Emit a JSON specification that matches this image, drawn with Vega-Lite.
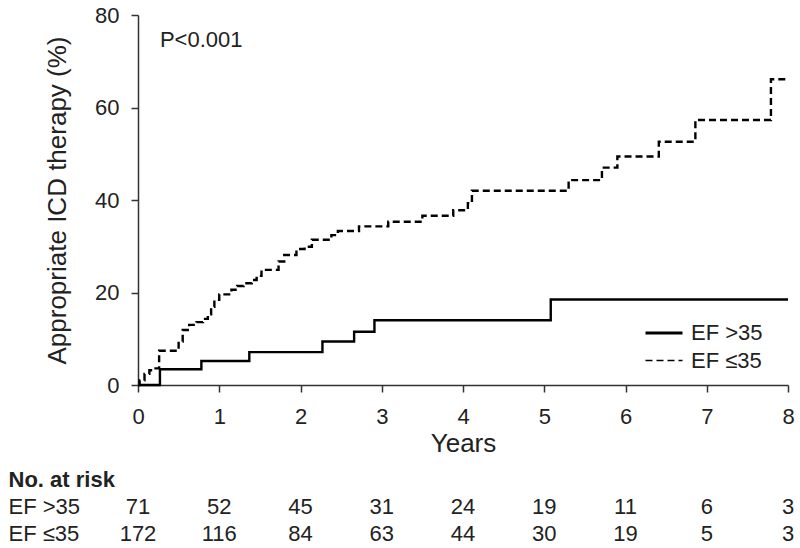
{
  "$schema": "https://vega.github.io/schema/vega-lite/v6.json",
  "background": "white",
  "padding": {"left": 8, "top": 4, "right": 0, "bottom": 0},
  "bounds": "flush",
  "spacing": 81,
  "config": {
    "view": {"stroke": null},
    "font": "Liberation Sans",
    "text": {"color": "#222"},
    "axis": {
      "grid": false,
      "domainColor": "#333",
      "tickColor": "#333",
      "labelColor": "#222",
      "titleColor": "#222",
      "labelFont": "Liberation Sans",
      "titleFont": "Liberation Sans",
      "titleFontWeight": "normal",
      "labelFontSize": 22,
      "titleFontSize": 26,
      "domainWidth": 1.5,
      "tickWidth": 1.5
    }
  },
  "vconcat": [
    {
      "width": 650,
      "height": 370,
      "layer": [
        {
          "data": {
            "values": [
              {"group": "EF >35", "t": 0, "v": 0},
              {"group": "EF >35", "t": 0.27, "v": 3.4},
              {"group": "EF >35", "t": 0.78, "v": 5.2},
              {"group": "EF >35", "t": 1.37, "v": 7.1},
              {"group": "EF >35", "t": 2.27, "v": 9.4},
              {"group": "EF >35", "t": 2.66, "v": 11.5},
              {"group": "EF >35", "t": 2.91, "v": 14.0},
              {"group": "EF >35", "t": 5.08, "v": 18.5},
              {"group": "EF >35", "t": 8.0, "v": 18.5},
              {"group": "EF ≤35", "t": 0, "v": 0},
              {"group": "EF ≤35", "t": 0.02, "v": 1.0},
              {"group": "EF ≤35", "t": 0.08, "v": 2.4},
              {"group": "EF ≤35", "t": 0.14, "v": 3.2},
              {"group": "EF ≤35", "t": 0.2, "v": 3.6},
              {"group": "EF ≤35", "t": 0.26, "v": 7.4},
              {"group": "EF ≤35", "t": 0.5, "v": 9.4},
              {"group": "EF ≤35", "t": 0.55, "v": 11.9},
              {"group": "EF ≤35", "t": 0.63, "v": 13.0},
              {"group": "EF ≤35", "t": 0.72, "v": 13.6},
              {"group": "EF ≤35", "t": 0.8, "v": 14.3},
              {"group": "EF ≤35", "t": 0.86, "v": 15.3},
              {"group": "EF ≤35", "t": 0.9, "v": 16.9},
              {"group": "EF ≤35", "t": 0.94, "v": 18.4},
              {"group": "EF ≤35", "t": 1.0, "v": 19.6},
              {"group": "EF ≤35", "t": 1.15, "v": 20.6},
              {"group": "EF ≤35", "t": 1.22, "v": 21.4},
              {"group": "EF ≤35", "t": 1.3, "v": 22.0},
              {"group": "EF ≤35", "t": 1.4, "v": 22.7},
              {"group": "EF ≤35", "t": 1.46, "v": 23.6},
              {"group": "EF ≤35", "t": 1.52, "v": 24.9},
              {"group": "EF ≤35", "t": 1.73, "v": 26.7},
              {"group": "EF ≤35", "t": 1.8, "v": 28.1},
              {"group": "EF ≤35", "t": 1.95, "v": 29.4},
              {"group": "EF ≤35", "t": 2.05, "v": 29.9},
              {"group": "EF ≤35", "t": 2.14, "v": 31.4},
              {"group": "EF ≤35", "t": 2.38, "v": 32.4},
              {"group": "EF ≤35", "t": 2.46, "v": 33.3},
              {"group": "EF ≤35", "t": 2.72, "v": 34.3},
              {"group": "EF ≤35", "t": 3.08, "v": 35.3},
              {"group": "EF ≤35", "t": 3.5, "v": 36.6},
              {"group": "EF ≤35", "t": 3.88, "v": 37.8},
              {"group": "EF ≤35", "t": 4.06, "v": 39.3},
              {"group": "EF ≤35", "t": 4.11, "v": 42.0},
              {"group": "EF ≤35", "t": 5.3, "v": 44.3},
              {"group": "EF ≤35", "t": 5.71, "v": 47.0},
              {"group": "EF ≤35", "t": 5.9, "v": 49.4},
              {"group": "EF ≤35", "t": 6.41, "v": 52.6},
              {"group": "EF ≤35", "t": 6.86, "v": 57.3},
              {"group": "EF ≤35", "t": 7.79, "v": 66.1},
              {"group": "EF ≤35", "t": 8.0, "v": 66.1}
            ]
          },
          "mark": {"type": "line", "interpolate": "step-after", "color": "black", "strokeWidth": 2.4},
          "encoding": {
            "x": {
              "field": "t", "type": "quantitative",
              "scale": {"domain": [0, 8], "nice": false},
              "axis": {"values": [0, 1, 2, 3, 4, 5, 6, 7, 8], "format": "d", "tickSize": 7, "labelPadding": 14, "labelFontSize": 22, "title": "Years", "titleFontSize": 26, "titlePadding": 3, "labelFlush": false}
            },
            "y": {
              "field": "v", "type": "quantitative",
              "scale": {"domain": [0, 80], "nice": false},
              "axis": {"values": [0, 20, 40, 60, 80], "format": "d", "tickSize": 7, "labelPadding": 12, "labelFontSize": 22, "title": "Appropriate ICD therapy (%)", "titleFontSize": 26, "titlePadding": 24}
            },
            "strokeDash": {
              "field": "group", "type": "nominal",
              "scale": {"domain": ["EF >35", "EF ≤35"], "range": [[1, 0], [7, 4]]},
              "legend": {
                "title": null,
                "orient": "none",
                "legendX": 515,
                "legendY": 307,
                "padding": 0,
                "symbolType": "stroke",
                "symbolSize": 1369,
                "symbolStrokeColor": "black",
                "symbolStrokeWidth": 2.5,
                "rowPadding": 5.5,
                "labelOffset": 16,
                "labelFontSize": 22,
                "labelColor": "#222",
                "labelFont": "Liberation Sans",
                "encode": {
                  "symbols": {
                    "update": {
                      "strokeDash": {"signal": "datum.value === 'EF ≤35' ? [1.6, 1.6] : [1, 0]"},
                      "strokeWidth": {"signal": "datum.value === 'EF ≤35' ? 1.6 : 2.8"},
                      "stroke": {"value": "black"}
                    }
                  }
                }
              }
            }
          }
        },
        {
          "data": {"values": [{"label": "P<0.001"}]},
          "mark": {"type": "text", "align": "left", "baseline": "middle", "fontSize": 22, "color": "#222"},
          "encoding": {
            "x": {"datum": 0.27},
            "y": {"datum": 74.6},
            "text": {"field": "label"}
          }
        }
      ]
    },
    {
      "width": 650,
      "height": 81,
      "data": {
        "values": [
          {"row": "EF >35", "t": 0, "n": 71},
          {"row": "EF >35", "t": 1, "n": 52},
          {"row": "EF >35", "t": 2, "n": 45},
          {"row": "EF >35", "t": 3, "n": 31},
          {"row": "EF >35", "t": 4, "n": 24},
          {"row": "EF >35", "t": 5, "n": 19},
          {"row": "EF >35", "t": 6, "n": 11},
          {"row": "EF >35", "t": 7, "n": 6},
          {"row": "EF >35", "t": 8, "n": 3},
          {"row": "EF ≤35", "t": 0, "n": 172},
          {"row": "EF ≤35", "t": 1, "n": 116},
          {"row": "EF ≤35", "t": 2, "n": 84},
          {"row": "EF ≤35", "t": 3, "n": 63},
          {"row": "EF ≤35", "t": 4, "n": 44},
          {"row": "EF ≤35", "t": 5, "n": 30},
          {"row": "EF ≤35", "t": 6, "n": 19},
          {"row": "EF ≤35", "t": 7, "n": 5},
          {"row": "EF ≤35", "t": 8, "n": 3}
        ]
      },
      "mark": {"type": "text", "align": "center", "baseline": "middle", "fontSize": 22, "dx": 0, "color": "#222"},
      "encoding": {
        "x": {"field": "t", "type": "quantitative", "scale": {"domain": [0, 8], "nice": false}, "axis": null},
        "y": {
          "field": "row", "type": "nominal",
          "scale": {"domain": ["No. at risk", "EF >35", "EF ≤35"], "paddingInner": 0, "paddingOuter": 0},
          "axis": {
            "title": null,
            "domain": false,
            "ticks": false,
            "tickSize": 0,
            "labelAlign": "left",
            "labelPadding": 130,
            "labelFontSize": 22,
            "labelColor": "#222",
            "labelFontWeight": {"condition": {"test": "datum.value === 'No. at risk'", "value": "bold"}, "value": "normal"}
          }
        },
        "text": {"field": "n", "type": "quantitative"}
      }
    }
  ]
}
